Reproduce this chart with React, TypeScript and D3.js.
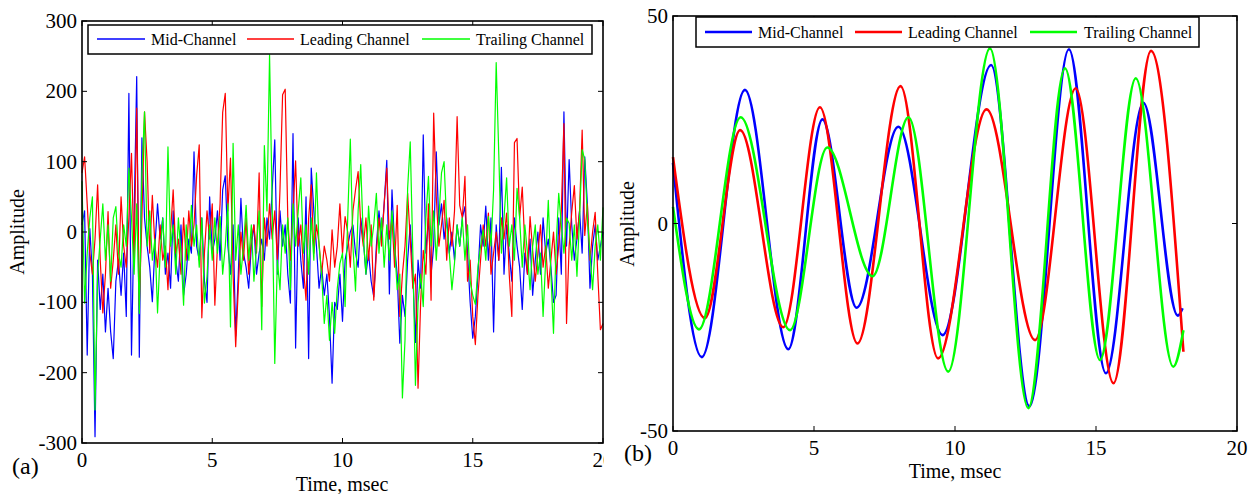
import React from 'react';
import * as d3 from 'd3';

// ---------- Data ----------
const SERIES_NAMES = ['Mid-Channel', 'Leading Channel', 'Trailing Channel'];
const SERIES_COLORS = ['#0000ff', '#ff0000', '#00ff00'];

// Panel (a): sampled every 0.1 msec, t = 0 .. 20
const SAMPLE_STEP = 0.1;
const midNoisy = [
  10, 30, -175, 5, -60, -291, -40, -110, -60, -142,
  -80, -142, -180, -70, -40, -90, -30, -120, 197, -175,
  20, 221, -178, 134, 20, -20, -50, -99, -20, 40,
  -10, 20, -60, -30, -80, 30, -40, -70, 10, -90,
  -60, -10, -30, 114, -20, -40, 20, -70, -100, 50,
  -30, -10, 30, -40, 60, 80, -20, -60, 10, -148,
  -60, 48, -30, -50, -80, -20, 10, -60, -30, -10,
  -40, 20, -10, 60, 131, -60, 30, -20, 10, -60,
  -101, 140, -165, 20, -40, -80, 50, -180, 91, 30,
  -20, -80, -50, -90, -60, -120, -215, -100, -110, -60,
  -127, -40, -20, 0, 10, -30, -50, 20, -10, -60,
  -30, -70, -92, -20, 30, -10, 40, 102, -88, 60,
  -20, -60, -158, -90, -120, -40, 10, -60, -157, -40,
  -80, 138, -30, 20, -60, -20, 114, 10, 40, -10,
  20, -30, 0, -40, 10, -20, 20, 36, -30, -100,
  -151, -120, -60, 10, -20, 37, -40, 20, -142, 10,
  -40, 92, -60, 10, -30, -70, 20, -20, -50, -110,
  -30, -60, -10, -90, -40, 0, -60, 20, -30, -10,
  -50, -100, -90, 20, -60, 171, -20, 103, 10, -40,
  -10, 30, -30, 107, 40, -80, -20, 10, -40, -20,
  0,
];
const leadingNoisy = [
  84, 107, 40, -30, -60, -10, 67, -40, -115, -60,
  29, -80, -40, 10, -60, 50, -20, -50, 20, 112,
  -40, 176, -104, 20, 171, 100, -30, 52, -20, -50,
  10, -40, -20, -82, 0, 60, -30, -10, -60, 20,
  -40, 30, -20, 10, 80, 124, -122, -30, 30, -10,
  40, -104, -20, 40, 170, 197, 30, 105, -60, -163,
  -80, 0, -40, 20, -60, -10, 10, -30, 84, -106,
  20, -20, 40, -10, 30, -40, 60, 195, 203, 20,
  -40, 30, 101, -20, 10, -50, -97, 20, 67, -30,
  10, -16, -60, -20, -40, -70, 3, -50, -20, 40,
  -30, 22, 0, -50, 30, 60, 86, 10, -20, 20,
  -40, 10, -97, -30, 20, -20, 40, 91, -10, 20,
  -50, 38, -120, -60, -20, 55, -10, -80, -60, -222,
  -100, -26, -60, 40, -97, 169, 50, -20, 10, 45,
  -40, 20, -20, 30, 164, 38, 20, 79, -70, -40,
  -120, -160, -90, -40, 10, -20, 27, -60, -30, 0,
  -40, 20, -10, 27, -60, -120, 127, 133, 20, 64,
  -20, -60, 22, -26, -70, -30, 10, -50, -20, -80,
  -40, 0, -60, -20, 30, 154, -130, -20, 28, 66,
  -10, 30, 145, -5, 40, -40, 0, 28, -60, -139,
  -130,
];
const trailingNoisy = [
  72, -101, -30, 20, 50, -253, -60, -10, 40, -40,
  10, -70, 20, 36, -30, -50, 10, -20, 91, 20,
  -60, 40, -116, 83, 171, -20, 30, -40, -10, -115,
  -30, 20, -50, 121, -20, 10, -60, 20, -30, -104,
  10, -40, 38, -20, 10, -50, 20, -101, -63, 10,
  -40, 20, -30, 22, -60, -20, 40, -135, 126, -40,
  10, -60, -20, 38, -40, 10, -70, -20, 30, -139,
  123, 30, 252, 40, -187, -40, -82, 10, -30, 20,
  -82, 40, -20, 30, 77, -30, 10, -60, 20, -40,
  84, -20, -60, -130, -90, -154, -100, -144, -80, -45,
  -30, -106, 20, 132, -20, -84, 30, 96, -10, -60,
  37, -20, 10, 55, -30, 20, -50, 10, -40, 30,
  -20, -82, -60, -236, -153, 62, 128, -30, -218, -100,
  -60, -106, 20, 79, -20, 30, -40, 20, 84, 100,
  10, -30, -82, -44, 10, -20, 20, -40, 10, -70,
  -90, -103, -50, -20, 3, -40, 22, -20, 60, 241,
  110, -30, 20, 77, -20, 10, -40, 62, 20, -50,
  10, -30, -82, -20, 10, -60, -30, -120, -40, 45,
  -60, -144, -20, 55, 10, -30, 20, 12, -40, 10,
  -63, 20, 117, 103, 20, -30, -82, -20, 10, -40,
  35,
];

// Panel (b): turning points of the filtered signals (time msec, amplitude)
const midTimes = [0, 1.02, 2.55, 4.09, 5.3, 6.51, 7.99, 9.56, 11.28, 12.64, 14.04, 15.35, 16.68, 17.9, 18.07];
const midValues = [14.6, -32.2, 32.2, -30.3, 25.1, -20.3, 23.3, -26.9, 38.2, -44.1, 42, -36.1, 29.1, -22.2, -20.4];
const leadingTimes = [0, 1.13, 2.38, 3.91, 5.21, 6.54, 8.07, 9.4, 11.12, 12.84, 14.28, 15.62, 16.95, 18.1];
const leadingValues = [16, -22.8, 22.5, -25, 28, -28.9, 33.1, -32.5, 27.5, -28.1, 32.6, -38.5, 41.6, -30.9];
const trailingTimes = [0, 0.92, 2.4, 4.15, 5.47, 7.08, 8.35, 9.76, 11.24, 12.6, 13.9, 15.14, 16.41, 17.74, 18.1];
const trailingValues = [4, -25.5, 25.6, -25.7, 18.3, -12.7, 25.6, -35.7, 42.2, -44.5, 37.4, -32.9, 35, -34.5, -25.7];

const X_TICKS = [0, 5, 10, 15, 20];
const Y_TICKS_A = [-300, -200, -100, 0, 100, 200, 300];
const Y_TICKS_B = [-50, 0, 50];

// ---------- Layout ----------
const FONT = '"Liberation Serif", "Times New Roman", serif';
const TICK = 5;

type Pt = [number, number];

function Frame({ x, y, xTicks, yTicks, clipId }: any) {
  const [x0, x1] = x.range();
  const [y0, y1] = y.range(); // y0 bottom, y1 top
  return (
    <g>
      <rect x={x0} y={y1} width={x1 - x0} height={y0 - y1} fill="none" stroke="#000" strokeWidth={1.6} />
      {xTicks.map((t: number) => (
        <g key={'xt' + t}>
          <line x1={x(t)} x2={x(t)} y1={y0} y2={y0 - TICK} stroke="#000" strokeWidth={1} />
          <line x1={x(t)} x2={x(t)} y1={y1} y2={y1 + TICK} stroke="#000" strokeWidth={1} />
        </g>
      ))}
      {yTicks.map((t: number) => (
        <g key={'yt' + t}>
          <line x1={x0} x2={x0 + TICK} y1={y(t)} y2={y(t)} stroke="#000" strokeWidth={1} />
          <line x1={x1} x2={x1 - TICK} y1={y(t)} y2={y(t)} stroke="#000" strokeWidth={1} />
        </g>
      ))}
      <g clipPath={clipId ? `url(#${clipId})` : undefined}>
        {xTicks.map((t: number) => (
          <text key={'xl' + t} x={x(t)} y={y0 + 24} textAnchor="middle" fontSize={21} fontFamily={FONT}>
            {t}
          </text>
        ))}
      </g>
      {yTicks.map((t: number) => (
        <text key={'yl' + t} x={x0 - 5} y={y(t) + 7} textAnchor="end" fontSize={21} fontFamily={FONT}>
          {t}
        </text>
      ))}
    </g>
  );
}

function Legend({ x, y, w, h, lines, textX, lineY, textY, width }: any) {
  return (
    <g>
      <rect x={x} y={y} width={w} height={h} fill="#fff" stroke="#000" strokeWidth={1.5} />
      {SERIES_NAMES.map((name, i) => (
        <g key={name}>
          <line x1={lines[i][0]} x2={lines[i][1]} y1={lineY} y2={lineY} stroke={SERIES_COLORS[i]} strokeWidth={width} />
          <text x={textX[i]} y={textY} fontSize={16} fontFamily={FONT}>
            {name}
          </text>
        </g>
      ))}
    </g>
  );
}

export default function App() {
  // Panel (a)
  const xa = d3.scaleLinear().domain([0, 20]).range([82, 603]);
  const ya = d3.scaleLinear().domain([-300, 300]).range([443, 21]);
  const lineA = d3
    .line<number>()
    .x((_, i) => xa(i * SAMPLE_STEP))
    .y((v) => ya(v));
  const noisy = [midNoisy, leadingNoisy, trailingNoisy];

  // Panel (b)
  const xb = d3.scaleLinear().domain([0, 20]).range([673, 1237]);
  const yb = d3.scaleLinear().domain([-50, 50]).range([431, 16]);
  const lineB = d3
    .line<Pt>()
    .x((d) => xb(d[0]))
    .y((d) => yb(d[1]))
    .curve(d3.curveMonotoneX);
  const smooth: Pt[][] = [
    midTimes.map((t, i) => [t, midValues[i]] as Pt),
    leadingTimes.map((t, i) => [t, leadingValues[i]] as Pt),
    trailingTimes.map((t, i) => [t, trailingValues[i]] as Pt),
  ];

  return (
    <svg width={1254} height={494} style={{ position: 'absolute', left: 0, top: 0, background: '#fff' }}>
      <defs>
        <clipPath id="clipA">
          <rect x={0} y={0} width={604} height={494} />
        </clipPath>
      </defs>
      <rect x={0} y={0} width={1254} height={494} fill="#fff" />

      {/* Panel (a) */}
      <g>
        {noisy.map((s, i) => (
          <path key={i} d={lineA(s) || ''} fill="none" stroke={SERIES_COLORS[i]} strokeWidth={1.2} strokeLinejoin="round" />
        ))}
        <Frame x={xa} y={ya} xTicks={X_TICKS} yTicks={Y_TICKS_A} clipId="clipA" />
        <Legend
          x={88}
          y={25}
          w={504}
          h={29}
          lines={[[97, 145], [247, 294], [422, 470]]}
          textX={[151, 300, 476]}
          lineY={39}
          textY={45}
          width={1.3}
        />
        <text x={342} y={491} textAnchor="middle" fontSize={20} fontFamily={FONT}>
          Time, msec
        </text>
        <text transform="translate(24,232) rotate(-90)" textAnchor="middle" fontSize={20} fontFamily={FONT}>
          Amplitude
        </text>
        <text x={12} y={474} fontSize={24} fontFamily={FONT}>
          (a)
        </text>
      </g>

      {/* Panel (b) */}
      <g>
        {smooth.map((s, i) => (
          <path key={i} d={lineB(s) || ''} fill="none" stroke={SERIES_COLORS[i]} strokeWidth={2.6} strokeLinejoin="round" />
        ))}
        <Frame x={xb} y={yb} xTicks={X_TICKS} yTicks={Y_TICKS_B} />
        <Legend
          x={696}
          y={17}
          w={503}
          h={30}
          lines={[[705, 752], [855, 902], [1030, 1077]]}
          textX={[758, 908, 1084]}
          lineY={32}
          textY={38}
          width={2.6}
        />
        <text x={955} y={478} textAnchor="middle" fontSize={20} fontFamily={FONT}>
          Time, msec
        </text>
        <text transform="translate(634,224) rotate(-90)" textAnchor="middle" fontSize={20} fontFamily={FONT}>
          Amplitude
        </text>
        <text x={624} y={461} fontSize={24} fontFamily={FONT}>
          (b)
        </text>
      </g>
    </svg>
  );
}
